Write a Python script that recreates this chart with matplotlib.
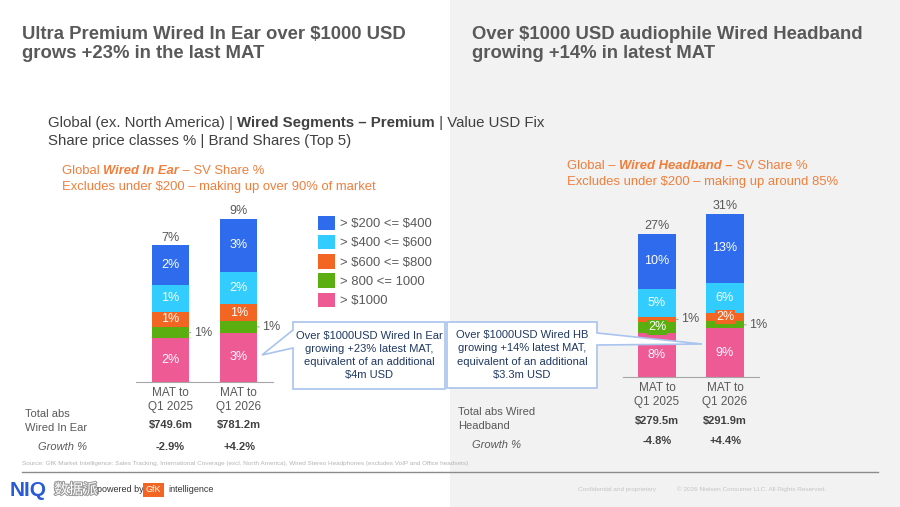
import matplotlib
matplotlib.use("Agg")
import matplotlib.pyplot as plt
from matplotlib.patches import Rectangle, Polygon
import matplotlib.patheffects as pe

plt.rcParams['font.family'] = ['Liberation Sans', 'Noto Sans CJK SC', 'DejaVu Sans']

# ---- data ----
SEGMENTS = ["> $1000", "> 800 <= 1000", "> $600 <= $800", "> $400 <= $600", "> $200 <= $400"]
SEG_COLORS = ["#EE5A93", "#5BAE10", "#F26522", "#33CCFF", "#2F6BED"]
PERIODS = ["MAT to\nQ1 2025", "MAT to\nQ1 2026"]

# share % per segment (bottom -> top: >$1000, 800-1000, 600-800, 400-600, 200-400)
IE_SHARE = [[2.3, 0.6, 0.8, 1.4, 2.1],
            [2.6, 0.6, 0.9, 1.7, 2.8]]
HB_SHARE = [[8.3, 2.1, 0.9, 5.3, 10.4],
            [9.2, 1.3, 1.6, 5.7, 13.0]]
IE_OUTSIDE = [(0, 1), (1, 1)]          # labels drawn outside the bar
HB_OUTSIDE = [(0, 2), (1, 1)]
HB_BOXED = [(0, 1), (1, 2)]            # small segments with a filled label box

IE_TOTAL_ABS = ["$749.6m", "$781.2m"]
IE_GROWTH = ["-2.9%", "+4.2%"]
HB_TOTAL_ABS = ["$279.5m", "$291.9m"]
HB_GROWTH = ["-4.8%", "+4.4%"]

GREY = "#595959"
ORANGE_TXT = "#F07F3C"
NAVY = "#1F3864"

W, H = 900, 507
fig = plt.figure(figsize=(W / 100, H / 100), dpi=100)
fig.patches.append(Rectangle((0.5, 0), 0.5, 1, transform=fig.transFigure,
                             facecolor="#F2F2F2", edgecolor="none", zorder=-5))
renderer = fig.canvas.get_renderer()


def fx(x): return x / W
def fy(y): return 1 - y / H


def txt(x, y, s, **kw):
    kw.setdefault("color", GREY)
    kw.setdefault("va", "center")
    return fig.text(fx(x), fy(y), s, **kw)


def seq(x, y, parts, size, color):
    # consecutive text runs with mixed weight / style
    for s, weight, style in parts:
        t = txt(x, y, s, fontsize=size, color=color, fontweight=weight, fontstyle=style)
        x += t.get_window_extent(renderer).width


def stacked(rect, shares, ymax, width, outside, boxed):
    l, r, b, t = rect
    ax = fig.add_axes([fx(l), fy(b), fx(r) - fx(l), fy(t) - fy(b)])
    ax.patch.set_visible(False)
    for sp in ["top", "left", "right"]:
        ax.spines[sp].set_visible(False)
    ax.spines["bottom"].set_color("#A6A6A6")
    ax.set_ylim(0, ymax)
    ax.set_xlim(-0.5, 1.5)
    ax.set_yticks([])
    ax.set_xticks(range(len(PERIODS)))
    ax.set_xticklabels(PERIODS, fontsize=8.5, color=GREY, linespacing=1.25)
    ax.tick_params(axis="x", length=0, pad=3.5)
    handles = []
    for i, vals in enumerate(shares):
        bottom = 0
        for j, v in enumerate(vals):
            bc = ax.bar(i, v, width, bottom=bottom, color=SEG_COLORS[j], linewidth=0)
            if i == 0:
                handles.append(bc)
            lab = f"{round(v)}%"
            if (i, j) in outside:
                ax.annotate(lab, (i + width / 2, bottom + v / 2), xytext=(3.5, 0),
                            textcoords="offset points", va="center", ha="left",
                            fontsize=9, color=GREY,
                            arrowprops=dict(arrowstyle="-", color="#A6A6A6", lw=0.8,
                                            shrinkA=0, shrinkB=0))
            else:
                bb = None
                if (i, j) in boxed:
                    bb = dict(boxstyle="square,pad=0.1", facecolor=SEG_COLORS[j],
                              edgecolor="none")
                ax.text(i, bottom + v / 2, lab, ha="center", va="center", fontsize=9,
                        color="white", bbox=bb)
            bottom += v
        ax.annotate(f"{round(bottom)}%", (i, bottom), xytext=(0, 1),
                    textcoords="offset points", ha="center", va="bottom",
                    fontsize=9, color=GREY)
    return ax, handles


# ---- titles ----
txt(22, 44, "Ultra Premium Wired In Ear over $1000 USD\ngrows +23% in the last MAT",
    fontsize=13.3, fontweight="bold", linespacing=1.12)
txt(472, 44, "Over $1000 USD audiophile Wired Headband\ngrowing +14% in latest MAT",
    fontsize=13.3, fontweight="bold", linespacing=1.12)

seq(48, 123, [("Global (ex. North America) | ", "normal", "normal"),
              ("Wired Segments \u2013 Premium", "bold", "normal"),
              (" | Value USD Fix", "normal", "normal")], 10.8, "#404040")
txt(48, 141, "Share price classes % | Brand Shares (Top 5)", fontsize=10.8, color="#404040")

seq(62, 171, [("Global ", "normal", "normal"), ("Wired In Ear", "bold", "italic"),
              (" \u2013 SV Share %", "normal", "normal")], 9.35, ORANGE_TXT)
txt(62, 187, "Excludes under $200 \u2013 making up over 90% of market", fontsize=9.35, color=ORANGE_TXT)
seq(567, 166, [("Global \u2013 ", "normal", "normal"), ("Wired Headband \u2013", "bold", "italic"),
               (" SV Share %", "normal", "normal")], 9.35, ORANGE_TXT)
txt(567, 182, "Excludes under $200 \u2013 making up around 85%", fontsize=9.35, color=ORANGE_TXT)

# ---- charts ----
ax1, handles = stacked((136, 273, 382, 192), IE_SHARE, 10, 0.54, IE_OUTSIDE, [])
ax2, _ = stacked((623, 759, 377, 202), HB_SHARE, 33, 0.56, HB_OUTSIDE, HB_BOXED)

leg = fig.legend(handles[::-1], SEGMENTS[::-1], loc="upper left",
                 bbox_to_anchor=(fx(311), fy(209)), frameon=False, fontsize=9.4,
                 labelcolor=GREY, handlelength=1.35, handleheight=1.35,
                 handletextpad=0.4, labelspacing=0.35, borderpad=0)
for t in leg.get_texts():
    t.set_parse_math(False)

# ---- callouts ----
def callout(box, base1, base2, tip, lines, cx):
    l, t, r, b = box
    if base1[0] == l:
        pts = [(l, t), (r, t), (r, b), (l, b), base2, tip, base1]
    else:
        pts = [(l, t), (r, t), base1, tip, base2, (r, b), (l, b)]
    fig.patches.append(Polygon([(fx(x), fy(y)) for x, y in pts], closed=True,
                               transform=fig.transFigure, facecolor="white",
                               edgecolor="#A9C4EE", lw=1.2, zorder=5))
    txt(cx, (t + b) / 2, lines, fontsize=8, color=NAVY, ha="center",
        linespacing=1.38, zorder=6)


callout((293, 322, 445, 389), (293, 330), (293, 348), (262, 355),
        "Over $1000USD Wired In Ear\ngrowing +23% latest MAT,\n"
        "equivalent of an additional\n$4m USD", 369)
callout((447, 322, 597, 388), (597, 333), (597, 345), (702, 344),
        "Over $1000USD Wired HB\ngrowing +14% latest MAT,\n"
        "equivalent of an additional\n$3.3m USD", 522)

# ---- totals table ----
txt(25, 421, "Total abs\nWired In Ear", fontsize=8, linespacing=1.5)
txt(38, 447, "Growth %", fontsize=8, fontstyle="italic")
txt(458, 419, "Total abs Wired\nHeadband", fontsize=8, linespacing=1.5)
txt(472, 445, "Growth %", fontsize=8, fontstyle="italic")
for i, xc in enumerate([170.5, 239]):
    txt(xc, 425, IE_TOTAL_ABS[i], fontsize=8, fontweight="bold", ha="center", color="#404040")
    txt(xc, 447, IE_GROWTH[i], fontsize=8, fontweight="bold", ha="center", color="#404040")
for i, xc in enumerate([657, 725]):
    txt(xc, 421, HB_TOTAL_ABS[i], fontsize=8, fontweight="bold", ha="center", color="#404040")
    txt(xc, 441, HB_GROWTH[i], fontsize=8, fontweight="bold", ha="center", color="#404040")

# ---- footer ----
txt(22, 464, "Source: GfK Market Intelligence: Sales Tracking, International Coverage (excl. North America), "
    "Wired Stereo Headphones (excludes VoIP and Office headsets)", fontsize=4.6, color="#B5B5B5")
fig.add_artist(plt.Line2D([fx(22), fx(878)], [fy(472), fy(472)], color="#8C8C8C", lw=1))
txt(10, 490, "NIQ", fontsize=15, fontweight="bold", color="#2A5BD7")
t = txt(54, 490, "数据派", fontsize=10.5, color="white")
t.set_path_effects([pe.withStroke(linewidth=1.5, foreground="#9A9A9A")])
txt(97, 490, "powered by", fontsize=6.5, color="#333333")
txt(146, 490, "GfK", fontsize=6.5, color="white",
    bbox=dict(boxstyle="square,pad=0.3", facecolor="#F26522", edgecolor="none"))
txt(168, 490, "intelligence", fontsize=6.5, color="#333333")
txt(578, 489, "Confidential and proprietary", fontsize=4.6, color="#C4C4C4")
txt(677, 489, "\u00a9 2026 Nielsen Consumer LLC. All Rights Reserved.", fontsize=4.6, color="#C4C4C4")

fig.savefig("out.png", dpi=100)
